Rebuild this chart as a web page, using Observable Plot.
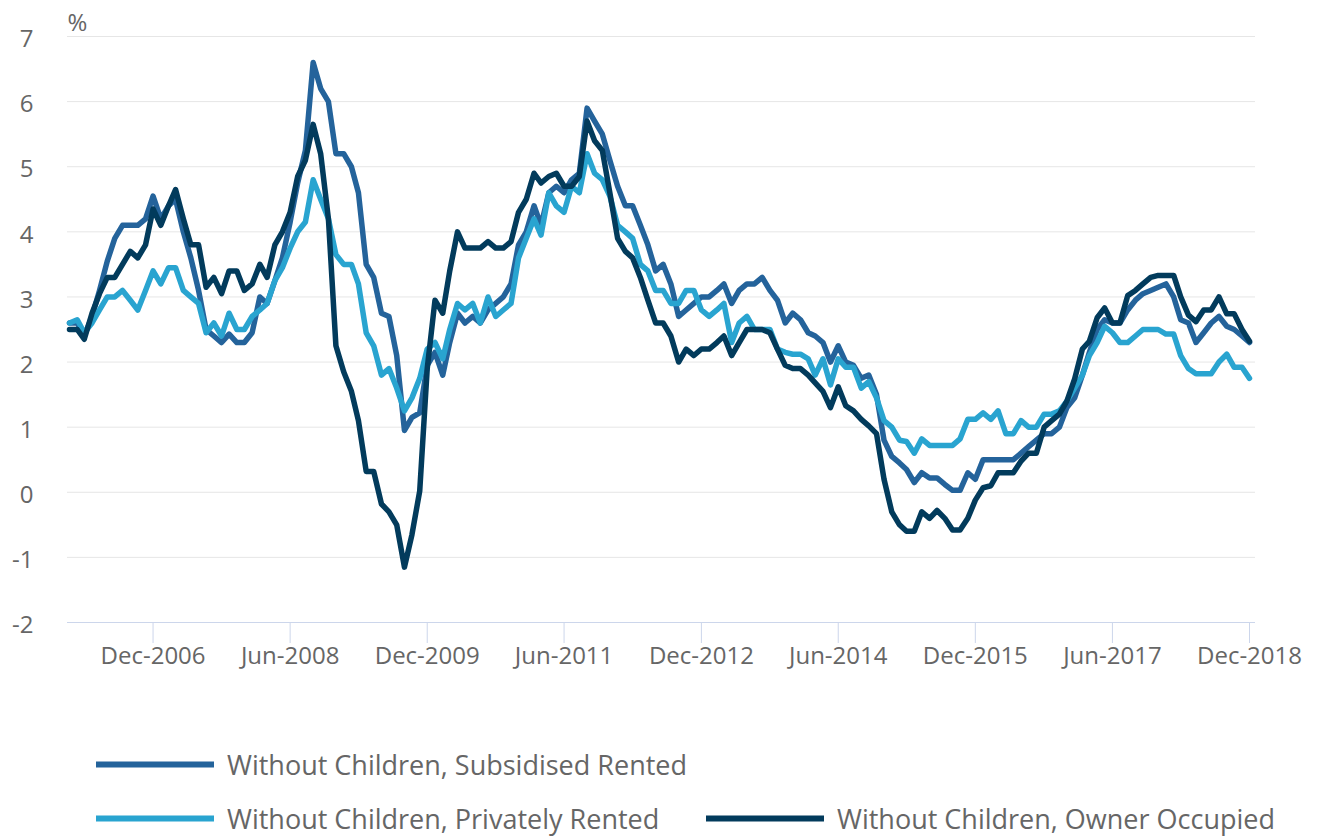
<!DOCTYPE html>
<html>
<head>
<meta charset="utf-8">
<script src="https://cdn.jsdelivr.net/npm/d3@7"></script>
<script src="https://cdn.jsdelivr.net/npm/@observablehq/plot@0.6"></script>
<style>
  body { margin: 0; background: #fff; font-family: "Open Sans", sans-serif; }
  #wrap { position: relative; width: 1319px; height: 836px; overflow: hidden; }
  .legend-item { position: absolute; display: flex; align-items: center; transform: translateY(-50%);
                 font-size: 27px; color: #666; white-space: nowrap; line-height: 1; }
  .swatch { width: 118px; height: 6px; margin-right: 13px; flex: none; }
</style>
</head>
<body>
<div id="wrap"></div>
<script>
// ---- Data (monthly, Jan-2006 .. Dec-2018), one row per year ----
const seriesNames = [
  "Without Children, Subsidised Rented",
  "Without Children, Privately Rented",
  "Without Children, Owner Occupied"
];
const seriesColors = ["#24639b", "#29a4d0", "#023b5c"];

const subsidisedRented = [
  2.6, 2.6, 2.4, 2.7, 3.1, 3.55, 3.9, 4.1, 4.1, 4.1, 4.2, 4.55,
  4.2, 4.4, 4.5, 4.0, 3.6, 3.1, 2.5, 2.4, 2.3, 2.43, 2.3, 2.3,
  2.45, 3.0, 2.9, 3.25, 3.6, 4.15, 4.75, 5.25, 6.6, 6.2, 6.0, 5.2,
  5.2, 5.0, 4.6, 3.5, 3.3, 2.75, 2.7, 2.1, 0.95, 1.15, 1.22, 1.95,
  2.15, 1.8, 2.3, 2.75, 2.6, 2.7, 2.6, 2.8, 2.9, 3.0, 3.2, 3.8,
  4.0, 4.4, 4.1, 4.6, 4.7, 4.6, 4.8, 4.9, 5.9, 5.7, 5.5, 5.1,
  4.7, 4.4, 4.4, 4.1, 3.8, 3.4, 3.5, 3.2, 2.7, 2.8, 2.9, 3.0,
  3.0, 3.1, 3.2, 2.9, 3.1, 3.2, 3.2, 3.3, 3.1, 2.95, 2.6, 2.75,
  2.65, 2.45, 2.4, 2.3, 2.0, 2.25, 2.0, 1.95, 1.75, 1.8, 1.5, 0.8,
  0.55, 0.45, 0.35, 0.15, 0.3, 0.22, 0.22, 0.12, 0.03, 0.03, 0.3, 0.2,
  0.5, 0.5, 0.5, 0.5, 0.5, 0.6, 0.7, 0.8, 0.9, 0.9, 1.0, 1.3,
  1.45, 1.8, 2.15, 2.5, 2.65, 2.6, 2.6, 2.8, 2.95, 3.05, 3.1, 3.15,
  3.2, 3.0, 2.65, 2.6, 2.3, 2.45, 2.6, 2.7, 2.55, 2.5, 2.4, 2.3
];

const privatelyRented = [
  2.6, 2.65, 2.45, 2.6, 2.8, 3.0, 3.0, 3.1, 2.95, 2.8, 3.1, 3.4,
  3.2, 3.45, 3.45, 3.1, 3.0, 2.9, 2.45, 2.6, 2.4, 2.75, 2.5, 2.5,
  2.7, 2.8, 2.9, 3.25, 3.45, 3.75, 4.0, 4.15, 4.8, 4.5, 4.2, 3.65,
  3.5, 3.5, 3.2, 2.45, 2.25, 1.8, 1.9, 1.6, 1.25, 1.45, 1.75, 2.2,
  2.3, 2.05, 2.5, 2.9, 2.8, 2.9, 2.6, 3.0, 2.7, 2.8, 2.9, 3.6,
  3.9, 4.2, 3.95, 4.6, 4.4, 4.3, 4.7, 4.6, 5.2, 4.9, 4.8, 4.55,
  4.1, 4.0, 3.9, 3.5, 3.4, 3.1, 3.1, 2.9, 2.9, 3.1, 3.1, 2.8,
  2.7, 2.8, 2.9, 2.3, 2.6, 2.7, 2.5, 2.5, 2.5, 2.2, 2.15, 2.12,
  2.12, 2.05, 1.8, 2.05, 1.65, 2.05, 1.92, 1.92, 1.6, 1.7, 1.45, 1.1,
  1.0, 0.8, 0.78, 0.6, 0.82, 0.72, 0.72, 0.72, 0.72, 0.82, 1.12, 1.12,
  1.22, 1.12, 1.25, 0.9, 0.9, 1.1, 1.0, 1.0, 1.2, 1.2, 1.25, 1.4,
  1.6, 1.8, 2.1, 2.3, 2.55, 2.45, 2.3, 2.3, 2.4, 2.5, 2.5, 2.5,
  2.43, 2.43, 2.1, 1.9, 1.82, 1.82, 1.82, 2.0, 2.12, 1.92, 1.92, 1.75
];

const ownerOccupied = [
  2.5, 2.5, 2.35, 2.75, 3.05, 3.3, 3.3, 3.5, 3.7, 3.6, 3.8, 4.35,
  4.1, 4.4, 4.65, 4.2, 3.8, 3.8, 3.15, 3.3, 3.05, 3.4, 3.4, 3.1,
  3.2, 3.5, 3.3, 3.8, 4.0, 4.3, 4.85, 5.1, 5.65, 5.2, 4.2, 2.25,
  1.85, 1.55, 1.1, 0.32, 0.32, -0.18, -0.3, -0.5, -1.15, -0.65, 0.02, 1.9,
  2.95, 2.75, 3.4, 4.0, 3.75, 3.75, 3.75, 3.85, 3.75, 3.75, 3.85, 4.3,
  4.5, 4.9, 4.75, 4.85, 4.9, 4.7, 4.7, 4.85, 5.7, 5.4, 5.25, 4.6,
  3.9, 3.7, 3.6, 3.3, 2.95, 2.6, 2.6, 2.4, 2.0, 2.2, 2.1, 2.2,
  2.2, 2.3, 2.4, 2.1, 2.3, 2.5, 2.5, 2.5, 2.45, 2.2, 1.95, 1.9,
  1.9, 1.8, 1.68, 1.55, 1.3, 1.62, 1.33, 1.25, 1.12, 1.02, 0.9, 0.2,
  -0.3, -0.5, -0.6, -0.6, -0.3, -0.4, -0.28, -0.4, -0.58, -0.58, -0.4, -0.12,
  0.07, 0.1, 0.3, 0.3, 0.3, 0.48, 0.6, 0.6, 1.0, 1.1, 1.2, 1.4,
  1.74, 2.2, 2.32, 2.68, 2.83, 2.6, 2.6, 3.02, 3.1, 3.2, 3.3, 3.33,
  3.33, 3.33, 3.0, 2.72, 2.62, 2.8, 2.8, 3.0, 2.74, 2.74, 2.5, 2.32
];

const yTicks = [-2, -1, 0, 1, 2, 3, 4, 5, 6, 7];
const xTickLabels = ["Dec-2006", "Jun-2008", "Dec-2009", "Jun-2011", "Dec-2012", "Jun-2014", "Dec-2015", "Jun-2017", "Dec-2018"];

// ---- Build table ----
const months = d3.utcMonth.range(new Date(Date.UTC(2006, 0, 1)), new Date(Date.UTC(2019, 0, 1)));
const allSeries = [subsidisedRented, privatelyRented, ownerOccupied];
const rows = [];
allSeries.forEach((arr, s) => arr.forEach((v, i) => rows.push({date: months[i], value: v, series: seriesNames[s]})));

const parseTick = d3.utcParse("%b-%Y");
const fmtTick = d3.utcFormat("%b-%Y");
const tickDates = xTickLabels.map(parseTick);

const chart = Plot.plot({
  width: 1319,
  height: 700,
  marginLeft: 67,
  marginRight: 64,
  marginTop: 36,
  marginBottom: 78,
  style: {fontFamily: "'Open Sans', sans-serif", fontSize: "24px", background: "#fff", color: "#666"},
  x: {type: "utc", domain: [new Date(Date.UTC(2005, 11, 24)), new Date(Date.UTC(2018, 11, 25))]},
  y: {domain: [-2, 7]},
  color: {domain: seriesNames, range: seriesColors},
  marks: [
    Plot.ruleY(yTicks.filter(d => d > -2), {stroke: "#e6e6e6", strokeWidth: 1}),
    Plot.ruleY([-2], {stroke: "#ccd6eb", strokeWidth: 1}),
    Plot.axisX({ticks: tickDates, tickFormat: fmtTick, tickSize: 21, tickPadding: 3,
                stroke: "#ccd6eb", fill: "#666", fontSize: 24, label: null}),
    Plot.axisY({ticks: yTicks, tickFormat: d => String(d), tickSize: 0, tickPadding: 34, dy: 3,
                fill: "#666", fontSize: 24, label: null}),
    Plot.text(["%"], {text: d => d, frameAnchor: "top-left", textAnchor: "start", lineAnchor: "bottom",
                      dy: -6, fontSize: 24, fill: "#666"}),
    Plot.line(rows, {x: "date", y: "value", stroke: "series", z: "series", strokeWidth: 5.5,
                     strokeLinejoin: "round", strokeLinecap: "round"})
  ]
});

const wrap = document.getElementById("wrap");
wrap.appendChild(chart);

// ---- Legend (HTML, below the SVG) ----
const legendPos = [
  {left: 96, top: 764},
  {left: 96, top: 818},
  {left: 706, top: 818}
];
seriesNames.forEach((name, i) => {
  const item = document.createElement("div");
  item.className = "legend-item";
  item.style.left = legendPos[i].left + "px";
  item.style.top = legendPos[i].top + "px";
  const sw = document.createElement("span");
  sw.className = "swatch";
  sw.style.background = seriesColors[i];
  const label = document.createElement("span");
  label.textContent = name;
  item.appendChild(sw);
  item.appendChild(label);
  wrap.appendChild(item);
});
</script>
</body>
</html>
